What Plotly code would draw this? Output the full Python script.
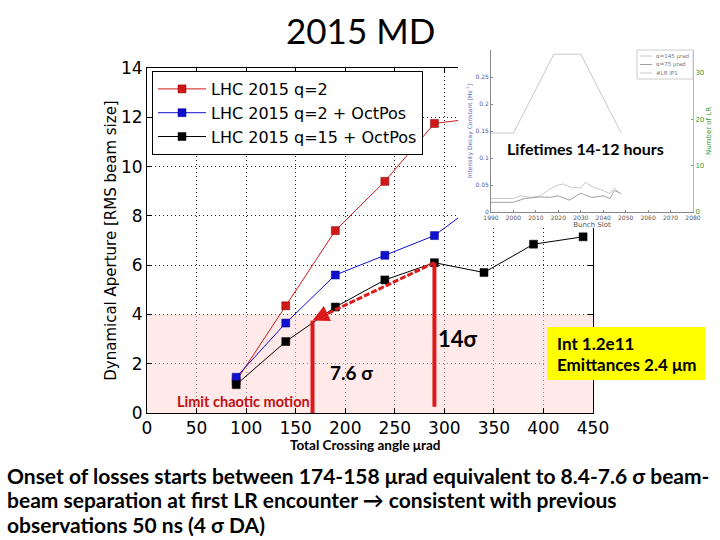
import plotly.graph_objects as go

# ---------------- main chart data ----------------
angle_red = [90, 140, 190, 240, 290, 340]
da_red = [1.3, 4.35, 7.4, 9.4, 11.75, 12.0]
angle_blue = [90, 140, 190, 240, 290, 340]
da_blue = [1.45, 3.65, 5.6, 6.4, 7.2, 8.7]
angle_black = [90, 140, 190, 240, 290, 340, 390, 440]
da_black = [1.15, 2.9, 4.3, 5.4, 6.1, 5.7, 6.85, 7.15]
series_names = ["LHC 2015 q=2", "LHC 2015 q=2 + OctPos", "LHC 2015 q=15 + OctPos"]
x_ticks = [0, 50, 100, 150, 200, 250, 300, 350, 400, 450]
y_ticks = [0, 2, 4, 6, 8, 10, 12, 14]
chaotic_limit = 4
onset_angle = 167
onset_da = 3.75
ref_angle = 290
ref_da = 6.1

# ---------------- inset data ----------------
slot_lr = [1990, 2000, 2018, 2030, 2048]
n_lr = [17, 17, 34, 34, 17]
slot_a = [1990, 2000, 2003, 2008, 2012, 2016, 2020, 2022, 2026, 2030, 2032, 2036, 2040, 2043, 2045, 2047]
decay_a = [0.025, 0.025, 0.03, 0.027, 0.03, 0.042, 0.05, 0.052, 0.045, 0.045, 0.055, 0.045, 0.04, 0.034, 0.045, 0.036]
slot_b = [1990, 2000, 2005, 2012, 2016, 2020, 2025, 2030, 2035, 2040, 2043, 2045, 2048]
decay_b = [0.018, 0.018, 0.025, 0.028, 0.027, 0.03, 0.022, 0.035, 0.027, 0.03, 0.025, 0.04, 0.034]
inset_x_ticks = [1990, 2000, 2010, 2020, 2030, 2040, 2050, 2060, 2070, 2080]
inset_left_ticks = [0, 0.05, 0.1, 0.15, 0.2, 0.25]
inset_left_labels = ["0", "0.05", "0.1", "0.15", "0.2", "0.25"]
inset_right_ticks = [0, 10, 20, 30]
inset_names = ["\u03b1=145 \u03bcrad", "\u03b1=75 \u03bcrad", "#LR IP1"]
inset_colors = ["#c8c8c8", "#a0a0a0", "#c8c8c8"]

bottom_lines = [
    "Onset of losses starts between 174-158 \u03bcrad equivalent to 8.4-7.6 \u03c3 beam-",
    "beam separation at first LR encounter \u2192 consistent with previous",
    "observations 50 ns (4 \u03c3 DA)",
]
info_lines = ["Int 1.2e11", "Emittances 2.4 \u03bcm"]

W, H = 720, 540
def px(x):
    return x / W
def py(y):
    return 1 - y / H

RED = "#d01818"
BLUE = "#1010d0"
BLACK = "#000000"
ARROW_RED = "#dd1a1a"
SLIDE_FONT = "Lato"
MPL_FONT = "DejaVu Sans"

fig = go.Figure()

for xs, ys, name, col, edge in [
    (angle_red, da_red, series_names[0], RED, "#800000"),
    (angle_blue, da_blue, series_names[1], BLUE, "#000080"),
    (angle_black, da_black, series_names[2], BLACK, "#000000"),
]:
    fig.add_trace(go.Scatter(
        x=xs, y=ys, name=name, mode="lines+markers",
        line=dict(color=col, width=1),
        marker=dict(symbol="square", size=8, color=col, line=dict(color=edge, width=0.5)),
        xaxis="x", yaxis="y", cliponaxis=True,
    ))

# cover subplot (white area of the pasted inset image)
fig.add_trace(go.Scatter(
    x=[0, 1, 1, 0, 0], y=[0, 0, 1, 1, 0], fill="toself", fillcolor="white",
    mode="none", showlegend=False, hoverinfo="skip", xaxis="x2", yaxis="y2",
))

# inset traces
fig.add_trace(go.Scatter(x=slot_a, y=decay_a, mode="lines", name=inset_names[0], showlegend=False,
                         line=dict(color=inset_colors[0], width=1), xaxis="x3", yaxis="y3"))
fig.add_trace(go.Scatter(x=slot_b, y=decay_b, mode="lines", name=inset_names[1], showlegend=False,
                         line=dict(color=inset_colors[1], width=1), xaxis="x3", yaxis="y3"))
fig.add_trace(go.Scatter(x=slot_lr, y=n_lr, mode="lines", name=inset_names[2], showlegend=False,
                         line=dict(color=inset_colors[2], width=1), xaxis="x3", yaxis="y4"))

main_x_dom = [px(147), px(593)]
main_y_dom = [py(413), py(68)]

axis_common = dict(showline=True, linecolor="black", linewidth=1, mirror="ticks",
                   ticks="inside", ticklen=5, tickcolor="black", automargin=False,
                   showgrid=True, gridcolor="#222222", gridwidth=1, griddash="1px,3px",
                   zeroline=False, tickfont=dict(family=MPL_FONT, size=17, color="black"))

small_axis = dict(automargin=False, showgrid=False, zeroline=False, ticks="inside", ticklen=2)

fig.update_layout(
    width=W, height=H,
    margin=dict(l=0, r=0, t=0, b=0),
    paper_bgcolor="white",
    plot_bgcolor="rgba(0,0,0,0)",
    showlegend=True,
    xaxis=dict(domain=main_x_dom, range=[0, 450], tickvals=x_ticks, anchor="y", **axis_common),
    yaxis=dict(domain=main_y_dom, range=[0, 14], tickvals=y_ticks, anchor="x",
               title=dict(text="Dynamical Aperture [RMS beam size]",
                          font=dict(family=MPL_FONT, size=15, color="black"), standoff=0),
               **axis_common),
    xaxis2=dict(domain=[px(458), px(697)], range=[0, 1], visible=False, fixedrange=True,
                anchor="y2", automargin=False),
    yaxis2=dict(domain=[py(228), py(45)], range=[0, 1], visible=False, fixedrange=True,
                anchor="x2", automargin=False),
    xaxis3=dict(domain=[px(491), px(693)], range=[1990, 2080], tickvals=inset_x_ticks,
                anchor="y3", showline=True, linecolor="#888888", linewidth=1,
                tickcolor="#888888",
                tickfont=dict(family=MPL_FONT, size=6, color="#555555"),
                title=dict(text="Bunch Slot", font=dict(family=MPL_FONT, size=7, color="#555555"),
                           standoff=0), **small_axis),
    yaxis3=dict(domain=[py(212), py(50)], range=[0, 0.3007], tickvals=inset_left_ticks,
                ticktext=inset_left_labels, anchor="x3", showline=True, linecolor="#888888",
                linewidth=1, tickcolor="#888888",
                tickfont=dict(family=MPL_FONT, size=6, color="#5555aa"),
                title=dict(text="Intensity Decay Constant [Hs<sup>-1</sup>]",
                           font=dict(family=MPL_FONT, size=6, color="#6666bb"), standoff=2),
                **small_axis),
    yaxis4=dict(overlaying="y3", side="right", range=[0, 34.9], tickvals=inset_right_ticks,
                anchor="x3", showline=True, linecolor="#99cc99", linewidth=1,
                tickcolor="#66aa66",
                tickfont=dict(family=MPL_FONT, size=7, color="#339933"),
                title=dict(text="Number of LR", font=dict(family=MPL_FONT, size=7, color="#339933"),
                           standoff=2), **small_axis),
    legend=dict(x=px(152), y=py(71), xanchor="left", yanchor="top",
                bgcolor="white", bordercolor="black", borderwidth=1,
                font=dict(family=MPL_FONT, size=16, color="black"),
                itemwidth=48, tracegroupgap=0),
)

# pink chaotic band
fig.add_shape(type="rect", xref="x", yref="y", x0=0, x1=450, y0=0, y1=chaotic_limit,
              fillcolor="rgba(255,215,215,0.55)", line=dict(width=0), layer="between")

# red vertical markers
fig.add_shape(type="line", xref="x", yref="y", x0=onset_angle, x1=onset_angle, y0=0, y1=onset_da,
              line=dict(color=ARROW_RED, width=4), layer="above")
fig.add_shape(type="line", xref="x", yref="y", x0=ref_angle, x1=ref_angle, y0=0.25, y1=ref_da,
              line=dict(color=ARROW_RED, width=4), layer="above")
# dashed diagonal
fig.add_shape(type="line", xref="x", yref="y", x0=ref_angle, x1=onset_angle + 8, y0=ref_da,
              y1=onset_da + 0.15, line=dict(color=ARROW_RED, width=3, dash="6px,2px"), layer="above")
fig.add_annotation(x=onset_angle, y=onset_da, xref="x", yref="y",
                   ax=onset_angle + 14, ay=onset_da + 0.27, axref="x", ayref="y",
                   showarrow=True, arrowhead=2, arrowsize=1.1, arrowwidth=3,
                   arrowcolor=ARROW_RED, text="")

# inset legend (small box, drawn with shapes and texts)
fig.add_shape(type="rect", xref="paper", yref="paper", x0=px(637), x1=px(693), y0=py(79), y1=py(50),
              line=dict(color="#cccccc", width=1), fillcolor="white", layer="above")
for i, (nm, col) in enumerate(zip(inset_names, inset_colors)):
    yy = 56 + 8.5 * i
    fig.add_shape(type="line", xref="paper", yref="paper", x0=px(640), x1=px(652),
                  y0=py(yy), y1=py(yy), line=dict(color=col, width=1), layer="above")
    fig.add_annotation(x=px(654), y=py(yy), xref="paper", yref="paper", xanchor="left",
                       yanchor="middle", text=nm, showarrow=False,
                       font=dict(family=MPL_FONT, size=5.5, color="#777777"))

def label(x, y, text, size, color="black", xanchor="center"):
    fig.add_annotation(x=px(x), y=py(y), xref="paper", yref="paper", text=text,
                       xanchor=xanchor, yanchor="middle", showarrow=False, align="left",
                       font=dict(family=SLIDE_FONT, size=size, color=color))

label(360, 30, "2015 MD", 35)
label(458, 338, "<b>14\u03c3</b>", 22)
label(351, 372, "<b>7.6 \u03c3</b>", 19)
label(243, 401, "<b>Limit chaotic motion</b>", 14.5, "#c01010")
label(585, 148, "<b>Lifetimes 14-12 hours</b>", 16)
label(365, 445, "<b>Total Crossing angle \u03bcrad</b>", 13.5)
for i, line in enumerate(bottom_lines):
    label(5, 475 + 24.5 * i, "<b>" + line + "</b>", 21, xanchor="left")

# yellow info box
fig.add_shape(type="rect", xref="paper", yref="paper", x0=px(547), x1=px(705), y0=py(380), y1=py(327),
              fillcolor="#ffff00", line=dict(width=0), layer="above")
for i, line in enumerate(info_lines):
    label(555, 343 + 21 * i, "<b>" + line + "</b>", 17, xanchor="left")

fig.write_html("out.html", post_script="document.body.style.margin='0px';",
               config={"displayModeBar": False})
